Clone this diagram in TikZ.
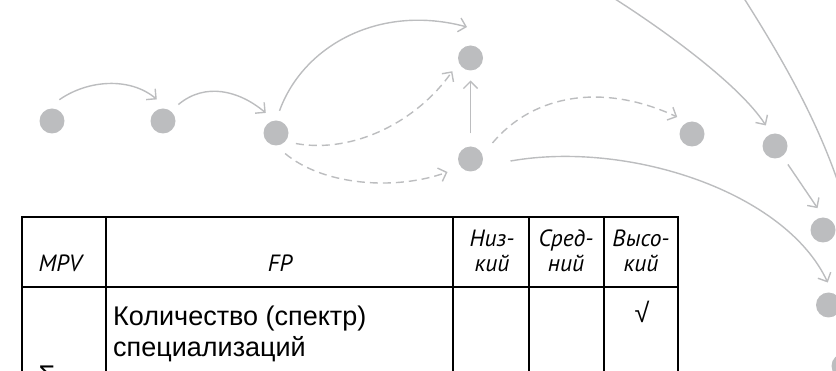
\documentclass[tikz,border=0pt]{standalone}
\usepackage{fontspec}
\setmainfont{Liberation Sans}
\newfontfamily\headfont{PT Sans}
\usetikzlibrary{arrows.meta}
\definecolor{pale}{HTML}{BCBDBF}

\begin{document}
\begin{tikzpicture}[x=1pt, y=-1pt,
    dot/.style={circle, fill=pale, minimum size=25pt, inner sep=0pt, outer sep=10pt},
    link/.style={draw=pale, line width=1.4pt, -{Straight Barb[angle=90:10pt]}},
    dlink/.style={link, dash pattern=on 8pt off 5pt},
    rule/.style={line width=2.2pt},
    head/.style={font=\headfont\itshape\fontsize{23.5}{25}\selectfont, align=center, inner sep=0pt, anchor=base},
    body/.style={font=\fontsize{27}{31}\selectfont, inner sep=0pt}]
    \clip (0,0) rectangle (836,371);

    % the chain of steps
    \node[dot] (n1) at (52,121) {};
    \node[dot] (n2) at (163,121) {};
    \node[dot] (n3) at (276,133) {};
    \node[dot] (n4) at (470.5,58) {};
    \node[dot] (n5) at (470.5,159) {};
    \node[dot] (n6) at (692,134) {};
    \node[dot] (n7) at (775,146) {};
    \node[dot] (n8) at (823,230) {};
    \node[dot] (n9) at (828.5,305) {};
    \node[dot] (n10) at (844,366) {};
    \coordinate (s1) at (604,-8);
    \coordinate (s2) at (740,-8);
    \coordinate (s3) at (848,215);

    \draw[link] (n1.71) .. controls +(28.7,-20) and +(-26.8,-22.5) .. (n2.106);
    \draw[link] (n2.47) .. controls +(26.8,-22.5) and +(-26.8,-22.5) .. (n3.117);
    \draw[link] (n3.81) .. controls +(23.9,-65.8) and +(-86.9,-23.3) .. ([shift={(-3.5,-31)}]n4.center);
    \draw[dlink] (n3.-28) .. controls +(59,10.4) and +(-34.4,49.1) .. (n4.216);
    \draw[dlink] (n3.-66) .. controls +(38.3,32.1) and +(-51.7,18.8) .. ([shift={(-23,13)}]n5.center);
    \draw[link, shorten <=3pt] (n5) -- (n4);
    \draw[dlink] ([shift={(22,-16)}]n5.center) .. controls +(41.8,-49.8) and +(-72.5,-33.8) .. (n6.131);
    \draw[link] ([shift={(40,2)}]n5.center) .. controls +(118.2,-20.8) and +(-42.3,-90.6) .. (n9.92);
    \draw[link] (s1) .. controls +(55.4,34.5) and +(-27.2,-42) .. (n7.114);
    \draw[link] (s2) .. controls (780,55) and (825,130) .. (s3);
    \draw[link] (n7.-55) -- (n8.104);

    % the table
    \draw[rule] (22,217) rectangle (678,400);
    \draw[rule] (22,287) -- (678,287);
    \foreach \x in {106,453,529,604}
        \draw[rule] (\x,217) -- (\x,400);

    \node[head] (mpv) at (60,272) {MPV};
    \node[head] (fp) at (280,272) {FP};
    \node[head] (low) at (492,272) {Низ-\\кий};
    \node[head] (mid) at (566,272) {Сред-\\ний};
    \node[head] (high) at (641,272) {Высо-\\кий};

    \node[body, anchor=base west, align=left] (spec) at (113,357) {Количество (спектр)\\специализаций};
    \node[body] (tick) at (642,312) {√};
    \node[body, anchor=north] (sig) at (47,366) {Σ};
\end{tikzpicture}
\end{document}
